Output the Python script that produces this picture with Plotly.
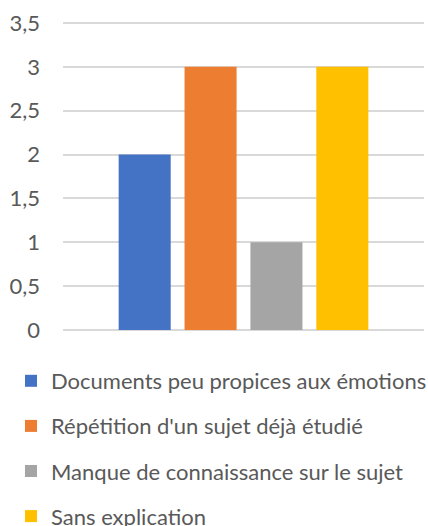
import plotly.graph_objects as go

categories = ["c"]
series_names = [
    "Documents peu propices aux émotions",
    "Répétition d'un sujet déjà étudié",
    "Manque de connaissance sur le sujet",
    "Sans explication",
]
series_values = [2, 3, 1, 3]
series_colors = ["#4472C4", "#ED7D31", "#A5A5A5", "#FFC000"]

FONT = "Lato"
fig = go.Figure()
for name, val, col in zip(series_names, series_values, series_colors):
    fig.add_trace(go.Bar(
        x=categories, y=[val], name=name, marker=dict(color=col, line=dict(width=0)),
        legendgroup=name,
    ))

W, H = 428, 526
unit = 307 / 3.5
ymax = 3.5 + 3 / unit
ml, mr, mt, mb = 63, 4, 20, 196
ph = H - mt - mb
pw = W - ml - mr

fig.update_layout(
    width=W, height=H,
    margin=dict(l=ml, r=mr, t=mt, b=mb, pad=0, autoexpand=False),
    paper_bgcolor="white", plot_bgcolor="white",
    separators=", ",
    barmode="group", bargap=0.27, bargroupgap=0.21,
    font=dict(family=FONT, color="#595959", size=22),
    showlegend=True,
    legend=dict(
        orientation="v", x=(11 - ml) / pw, xanchor="left",
        y=-(360 - (H - mb)) / ph, yanchor="top",
        font=dict(family=FONT, size=22, color="#595959"),
        tracegroupgap=13.5, traceorder="grouped",
        bgcolor="rgba(0,0,0,0)",
    ),
    xaxis=dict(showticklabels=False, showgrid=False, zeroline=False, showline=False, ticks=""),
    yaxis=dict(
        range=[0, ymax], dtick=0.5, tick0=0,
        showgrid=True, gridcolor="#D9D9D9", gridwidth=1.5,
        zeroline=True, zerolinecolor="#D9D9D9", zerolinewidth=1.5,
        showline=False, ticks="", ticklabelstandoff=22,
        tickfont=dict(family=FONT, size=22, color="#595959"),
    ),
)

fig.write_html("out.html", config={"displayModeBar": False},
               post_script="document.body.style.margin='0';")
